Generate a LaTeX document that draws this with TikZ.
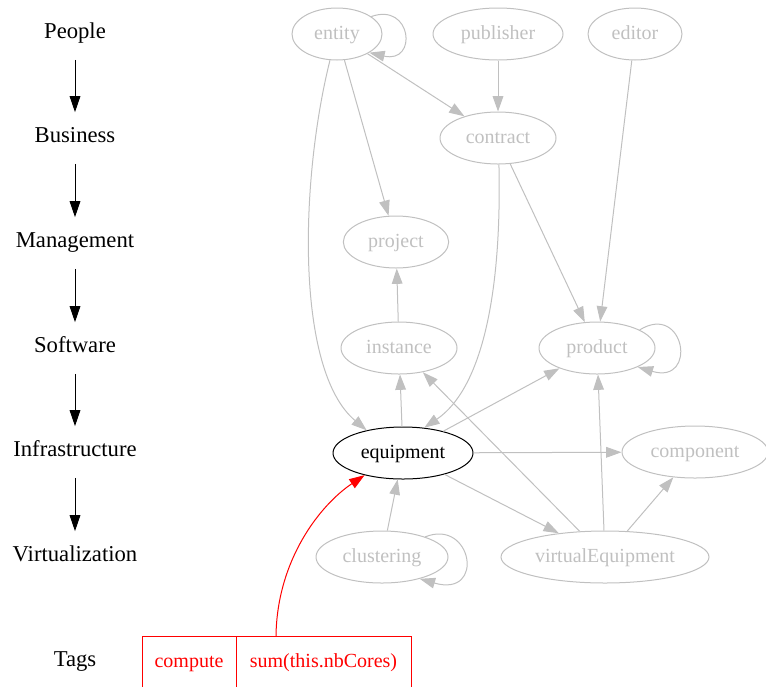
\documentclass[tikz,border=0pt]{standalone}
\usepackage{fontspec}
\setmainfont{LiberationSerif}[Extension=.ttf, UprightFont=*-Regular, BoldFont=*-Bold, ItalicFont=*-Italic]
\usetikzlibrary{shapes.geometric,arrows.meta}

\definecolor{fadegray}{RGB}{192,192,192}
\definecolor{tagred}{RGB}{255,0,0}

\tikzset{every picture/.style={line width=0.75pt}}
\tikzset{
  layer/.style={font=\fontsize{17}{20}\selectfont, inner sep=0pt, text height=11.5pt, text depth=5pt, minimum height=38pt},
  layerarrow/.style={draw=black, -{Triangle[length=12pt,width=8pt]}},
  cls/.style={ellipse, draw=fadegray, text=fadegray, font=\fontsize{15}{18}\selectfont, inner sep=0pt, text height=11pt, text depth=3.5pt, minimum height=39pt},
  focus/.style={cls, draw=black, text=black},
  dep/.style={draw=fadegray, -{Triangle[length=11.5pt,width=8pt]}},
  tagcell/.style={rectangle, draw=tagred, text=tagred, font=\fontsize{15}{18}\selectfont, inner sep=0pt, text height=11pt, text depth=3.5pt, minimum height=39pt},
  tagedge/.style={draw=tagred, -{Triangle[length=11.5pt,width=8pt]}}
}

\begin{document}
\begin{tikzpicture}[x=0.75pt,y=0.75pt,yscale=-1,xscale=1]
\clip (0,0) rectangle (766,686);

% Layers
\node [layer] (ppl) at (75,34) {People};
\node [layer] (bus) at (75,138) {Business};
\node [layer] (mgt) at (75,243) {Management};
\node [layer] (sw) at (75,348) {Software};
\node [layer] (infra) at (75,452) {Infrastructure};
\node [layer] (virt) at (75,557) {Virtualization};
\node [layer] (tags) at (75,662) {Tags};

\draw [layerarrow] (ppl) -- (bus);
\draw [layerarrow] (bus) -- (mgt);
\draw [layerarrow] (mgt) -- (sw);
\draw [layerarrow] (sw) -- (infra);
\draw [layerarrow] (infra) -- (virt);

% Classes
\node [cls, minimum width=67.5pt] (ent) at (337,34) {entity};
\node [cls, minimum width=97.5pt] (pub) at (498,34) {publisher};
\node [cls, minimum width=70.5pt] (edi) at (635,34) {editor};
\node [cls, minimum width=87pt] (con) at (498,138) {contract};
\node [cls, minimum width=79pt] (prj) at (396,242) {project};
\node [cls, minimum width=87pt] (ins) at (399,348) {instance};
\node [cls, minimum width=87pt] (prd) at (597,348) {product};
\node [focus, minimum width=105pt] (equ) at (403,453) {equipment};
\node [cls, minimum width=109.5pt] (cmp) at (695,452) {component};
\node [cls, minimum width=99pt] (clu) at (382,557) {clustering};
\node [cls, minimum width=156pt] (veq) at (605,557) {virtualEquipment};

% Tags
\node [tagcell, minimum width=70.5pt] (tcomp) at (189,662) {compute};
\node [tagcell, minimum width=131.25pt] (tsum) at (323.5,662) {sum(this.nbCores)};
\coordinate (tagport) at (276,636);

% Dependencies
\draw [dep] (ent.27) .. controls (412,2) and (418,64) .. (ent.-30);
\draw [dep] (ent) -- (con);
\draw [dep] (ent) -- (prj);
\draw [dep] (ent.255) .. controls (300,180) and (295,370) .. (equ.148);
\draw [dep] (pub) -- (con);
\draw [dep] (edi) -- (prd);
\draw [dep] (con) -- (prd);
\draw [dep] (con.272) .. controls (502,300) and (480,390) .. (equ.50);
\draw [dep] (ins) -- (prj);
\draw [dep] (prd.23) .. controls (685,302) and (698,385) .. (prd.-25);
\draw [dep] (equ) -- (ins);
\draw [dep] (equ) -- (prd);
\draw [dep] (equ) -- (cmp);
\draw [dep] (equ) -- (veq);
\draw [dep] (veq) -- (ins);
\draw [dep] (veq) -- (prd);
\draw [dep] (veq) -- (cmp);
\draw [dep] (clu) -- (equ);
\draw [dep] (clu.25) .. controls (472,518) and (486,598) .. (clu.-30);

% Tag link
\draw [tagedge] (tagport) .. controls (277,560) and (320,505) .. (equ.-150);

\end{tikzpicture}
\end{document}
